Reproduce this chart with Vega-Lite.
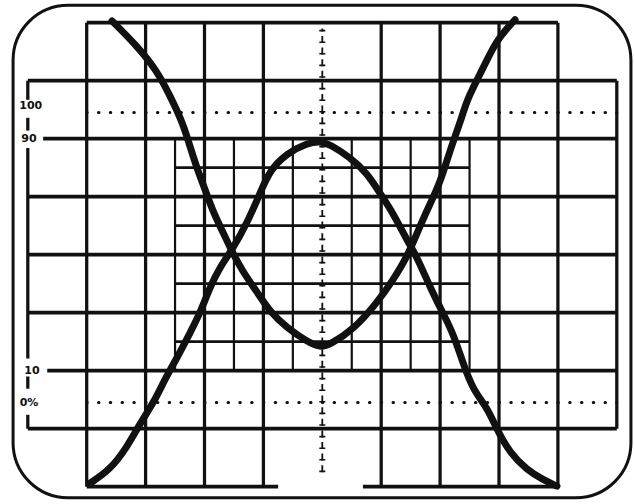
{
  "$schema": "https://vega.github.io/schema/vega-lite/v6.json",
  "width": 634,
  "height": 504,
  "autosize": {"type": "none"},
  "padding": 0,
  "background": "white",
  "config": {"view": {"stroke": null}},
  "datasets": {
    "screen": [{"x1": -1.25, "x2": 9.24, "y1": -0.19, "y2": 8.3}],
    "grid": [
      {"kind": "h", "x1": 0, "x2": 8, "y1": 8, "y2": 8},
      {"kind": "h", "x1": -1, "x2": 9, "y1": 7, "y2": 7},
      {"kind": "h", "x1": -0.74, "x2": 9, "y1": 6, "y2": 6},
      {"kind": "h", "x1": -1, "x2": 9, "y1": 5, "y2": 5},
      {"kind": "h", "x1": -1, "x2": 9, "y1": 4, "y2": 4},
      {"kind": "h", "x1": -1, "x2": 9, "y1": 3, "y2": 3},
      {"kind": "h", "x1": -0.67, "x2": 9, "y1": 2, "y2": 2},
      {"kind": "h", "x1": -1, "x2": 9, "y1": 1, "y2": 1},
      {"kind": "h", "x1": 0, "x2": 3.25, "y1": 0, "y2": 0},
      {"kind": "h", "x1": 4.69, "x2": 8, "y1": 0, "y2": 0},
      {"kind": "v", "x1": 0, "x2": 0, "y1": 0, "y2": 8},
      {"kind": "v", "x1": 1, "x2": 1, "y1": 0, "y2": 8},
      {"kind": "v", "x1": 2, "x2": 2, "y1": 0, "y2": 8},
      {"kind": "v", "x1": 3, "x2": 3, "y1": 0, "y2": 8},
      {"kind": "v", "x1": 5, "x2": 5, "y1": 0, "y2": 8},
      {"kind": "v", "x1": 6, "x2": 6, "y1": 0, "y2": 8},
      {"kind": "v", "x1": 7, "x2": 7, "y1": 0, "y2": 8},
      {"kind": "v", "x1": 8, "x2": 8, "y1": 0, "y2": 8},
      {"kind": "v", "x1": 9, "x2": 9, "y1": 1, "y2": 7},
      {"kind": "v", "x1": -1, "x2": -1, "y1": 6.67, "y2": 7},
      {"kind": "v", "x1": -1, "x2": -1, "y1": 6.14, "y2": 6.36},
      {"kind": "v", "x1": -1, "x2": -1, "y1": 2.21, "y2": 5.84},
      {"kind": "v", "x1": -1, "x2": -1, "y1": 1.69, "y2": 1.9},
      {"kind": "v", "x1": -1, "x2": -1, "y1": 1, "y2": 1.24},
      {"kind": "mh", "x1": 1.5, "x2": 6.5, "y1": 2.5, "y2": 2.5},
      {"kind": "mh", "x1": 1.5, "x2": 6.5, "y1": 3.5, "y2": 3.5},
      {"kind": "mh", "x1": 1.5, "x2": 6.5, "y1": 4.5, "y2": 4.5},
      {"kind": "mh", "x1": 1.5, "x2": 6.5, "y1": 5.5, "y2": 5.5},
      {"kind": "mv", "x1": 1.5, "x2": 1.5, "y1": 2, "y2": 6},
      {"kind": "mv", "x1": 2.5, "x2": 2.5, "y1": 2, "y2": 6},
      {"kind": "mv", "x1": 3.5, "x2": 3.5, "y1": 2, "y2": 6},
      {"kind": "mv", "x1": 4.5, "x2": 4.5, "y1": 2, "y2": 6},
      {"kind": "mv", "x1": 5.5, "x2": 5.5, "y1": 2, "y2": 6},
      {"kind": "mv", "x1": 6.5, "x2": 6.5, "y1": 2, "y2": 6}
    ],
    "dotted": [
      {"x1": 0, "x2": 9, "y1": 6.45, "y2": 6.45},
      {"x1": 0, "x2": 9, "y1": 1.45, "y2": 1.45}
    ],
    "center": [{"x1": 4, "x2": 4, "y1": 0.25, "y2": 7.9}],
    "labels": [
      {"label": "100", "x": -0.95, "y": 6.56},
      {"label": "90", "x": -0.98, "y": 6.0},
      {"label": "10", "x": -0.93, "y": 2.0},
      {"label": "0%", "x": -0.98, "y": 1.44}
    ],
    "traces": [
      {"trace": "A", "x": 0.43, "y": 8.03},
      {"trace": "A", "x": 0.854, "y": 7.6},
      {"trace": "A", "x": 1.194, "y": 7.17},
      {"trace": "A", "x": 1.415, "y": 6.74},
      {"trace": "A", "x": 1.618, "y": 6.3},
      {"trace": "A", "x": 1.72, "y": 5.98},
      {"trace": "A", "x": 1.873, "y": 5.48},
      {"trace": "A", "x": 2.008, "y": 5.13},
      {"trace": "A", "x": 2.144, "y": 4.74},
      {"trace": "A", "x": 2.314, "y": 4.39},
      {"trace": "A", "x": 2.467, "y": 4.05},
      {"trace": "A", "x": 2.654, "y": 3.7},
      {"trace": "A", "x": 2.892, "y": 3.36},
      {"trace": "A", "x": 3.112, "y": 3.01},
      {"trace": "A", "x": 3.401, "y": 2.74},
      {"trace": "A", "x": 3.741, "y": 2.5},
      {"trace": "A", "x": 3.962, "y": 2.4},
      {"trace": "A", "x": 4.131, "y": 2.45},
      {"trace": "A", "x": 4.521, "y": 2.7},
      {"trace": "A", "x": 4.929, "y": 3.17},
      {"trace": "A", "x": 5.2, "y": 3.56},
      {"trace": "A", "x": 5.438, "y": 3.96},
      {"trace": "A", "x": 5.608, "y": 4.37},
      {"trace": "A", "x": 5.778, "y": 4.77},
      {"trace": "A", "x": 5.999, "y": 5.23},
      {"trace": "A", "x": 6.168, "y": 5.8},
      {"trace": "A", "x": 6.338, "y": 6.27},
      {"trace": "A", "x": 6.457, "y": 6.67},
      {"trace": "A", "x": 6.627, "y": 7.01},
      {"trace": "A", "x": 6.797, "y": 7.36},
      {"trace": "A", "x": 6.967, "y": 7.7},
      {"trace": "A", "x": 7.187, "y": 7.96},
      {"trace": "A", "x": 7.272, "y": 8.05},
      {"trace": "B", "x": 0.056, "y": 0.06},
      {"trace": "B", "x": 0.396, "y": 0.29},
      {"trace": "B", "x": 0.684, "y": 0.68},
      {"trace": "B", "x": 0.905, "y": 1.09},
      {"trace": "B", "x": 1.16, "y": 1.49},
      {"trace": "B", "x": 1.33, "y": 1.86},
      {"trace": "B", "x": 1.533, "y": 2.22},
      {"trace": "B", "x": 1.754, "y": 2.65},
      {"trace": "B", "x": 1.924, "y": 2.99},
      {"trace": "B", "x": 2.093, "y": 3.44},
      {"trace": "B", "x": 2.263, "y": 3.79},
      {"trace": "B", "x": 2.467, "y": 4.08},
      {"trace": "B", "x": 2.722, "y": 4.54},
      {"trace": "B", "x": 2.942, "y": 5.06},
      {"trace": "B", "x": 3.112, "y": 5.46},
      {"trace": "B", "x": 3.401, "y": 5.75},
      {"trace": "B", "x": 3.741, "y": 5.92},
      {"trace": "B", "x": 3.962, "y": 5.96},
      {"trace": "B", "x": 4.131, "y": 5.9},
      {"trace": "B", "x": 4.47, "y": 5.68},
      {"trace": "B", "x": 4.759, "y": 5.41},
      {"trace": "B", "x": 4.98, "y": 5.06},
      {"trace": "B", "x": 5.2, "y": 4.72},
      {"trace": "B", "x": 5.438, "y": 4.25},
      {"trace": "B", "x": 5.608, "y": 3.96},
      {"trace": "B", "x": 5.829, "y": 3.44},
      {"trace": "B", "x": 6.049, "y": 2.99},
      {"trace": "B", "x": 6.219, "y": 2.65},
      {"trace": "B", "x": 6.389, "y": 2.13},
      {"trace": "B", "x": 6.559, "y": 1.67},
      {"trace": "B", "x": 6.797, "y": 1.37},
      {"trace": "B", "x": 6.967, "y": 0.98},
      {"trace": "B", "x": 7.187, "y": 0.58},
      {"trace": "B", "x": 7.475, "y": 0.29},
      {"trace": "B", "x": 7.747, "y": 0.12},
      {"trace": "B", "x": 7.984, "y": 0.01}
    ]
  },
  "layer": [
    {
      "data": {"name": "screen"},
      "mark": {"type": "rect", "cornerRadius": 55, "fill": null, "fillOpacity": 0, "stroke": "#111", "strokeWidth": 3},
      "encoding": {
        "x": {"field": "x1", "type": "quantitative", "scale": {"domain": [-1.472, 9.292], "nice": false, "zero": false}, "axis": null},
        "x2": {"field": "x2"},
        "y": {"field": "y1", "type": "quantitative", "scale": {"domain": [-0.298, 8.391], "nice": false, "zero": false}, "axis": null},
        "y2": {"field": "y2"}
      }
    },
    {
      "data": {"name": "grid"},
      "mark": {"type": "rule", "color": "#111", "strokeCap": "butt"},
      "encoding": {
        "x": {"field": "x1", "type": "quantitative"},
        "x2": {"field": "x2"},
        "y": {"field": "y1", "type": "quantitative"},
        "y2": {"field": "y2"},
        "strokeWidth": {"field": "kind", "type": "nominal", "scale": {"domain": ["h", "v", "mh", "mv"], "range": [3.8, 2.2, 3.0, 2.0]}, "legend": null}
      }
    },
    {
      "data": {"name": "dotted"},
      "mark": {"type": "rule", "color": "#111", "strokeWidth": 3, "strokeCap": "round", "strokeDash": [0.5, 11.28]},
      "encoding": {
        "x": {"field": "x1", "type": "quantitative"},
        "x2": {"field": "x2"},
        "y": {"field": "y1", "type": "quantitative"},
        "y2": {"field": "y2"}
      }
    },
    {
      "data": {"name": "center"},
      "mark": {"type": "rule", "color": "#111", "strokeWidth": 1.8, "strokeDash": [7, 4.6]},
      "encoding": {
        "x": {"field": "x1", "type": "quantitative"},
        "x2": {"field": "x2"},
        "y": {"field": "y1", "type": "quantitative"},
        "y2": {"field": "y2"}
      }
    },
    {
      "data": {"name": "center"},
      "mark": {"type": "rule", "color": "#111", "strokeWidth": 6, "strokeDash": [1.6, 10]},
      "encoding": {
        "x": {"field": "x1", "type": "quantitative"},
        "x2": {"field": "x2"},
        "y": {"field": "y1", "type": "quantitative"},
        "y2": {"field": "y2"}
      }
    },
    {
      "data": {"name": "labels"},
      "mark": {"type": "text", "font": "DejaVu Sans", "fontWeight": "bold", "fontSize": 11, "color": "#111", "align": "center", "baseline": "middle"},
      "encoding": {
        "x": {"field": "x", "type": "quantitative"},
        "y": {"field": "y", "type": "quantitative"},
        "text": {"field": "label"}
      }
    },
    {
      "data": {"name": "traces"},
      "mark": {"type": "line", "color": "#111", "strokeWidth": 7, "interpolate": "basis", "strokeCap": "round", "strokeJoin": "round"},
      "encoding": {
        "x": {"field": "x", "type": "quantitative"},
        "y": {"field": "y", "type": "quantitative"},
        "detail": {"field": "trace"}
      }
    }
  ]
}
